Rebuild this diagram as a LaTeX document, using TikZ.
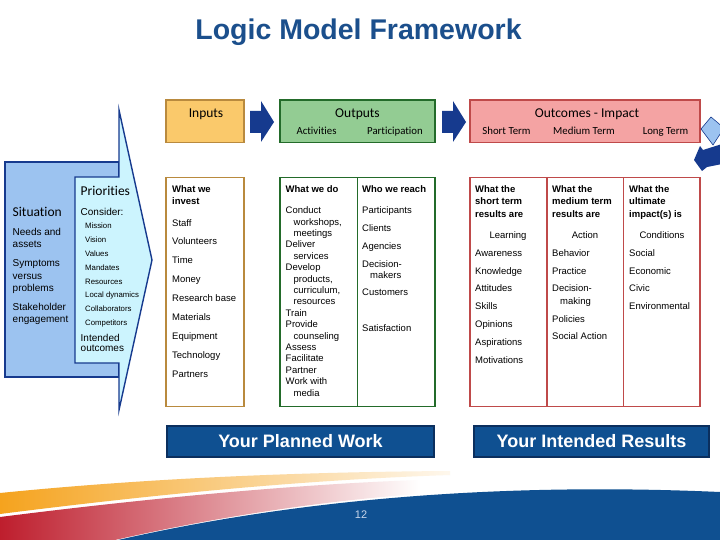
\documentclass[tikz,border=0pt]{standalone}
\usepackage{fontspec}
\setmainfont{Liberation Sans}
\newfontfamily\hdfont[Ligatures=NoCommon]{Carlito}
\usepackage{tikz}
\usetikzlibrary{calc}
\definecolor{lmtitle}{HTML}{1B4F8C}
\definecolor{lmin}{HTML}{FAC96B}
\definecolor{lminline}{HTML}{B98A3E}
\definecolor{lmout}{HTML}{93CC93}
\definecolor{lmoutline}{HTML}{236B2A}
\definecolor{lmimp}{HTML}{F4A3A3}
\definecolor{lmimpline}{HTML}{BF4A4A}
\definecolor{lmnavy}{HTML}{163A8E}
\definecolor{lmsit}{HTML}{9CC3F0}
\definecolor{lmprio}{HTML}{CCF4FE}
\definecolor{lmband}{HTML}{0F5091}
\definecolor{lmbandline}{HTML}{0B2F5E}
\definecolor{lmorange}{HTML}{F5A31E}
\definecolor{lmred}{HTML}{BE1E2D}
\definecolor{lmpage}{HTML}{C8D6EA}
\tikzset{
  body/.style={font=\fontsize{9.5}{11}\selectfont,anchor=base west,inner sep=0pt},
  bodyb/.style={body,font=\fontsize{9.5}{11}\selectfont\bfseries},
  sitx/.style={font=\fontsize{10}{12}\selectfont,anchor=base west,inner sep=0pt},
  prio/.style={font=\fontsize{7.8}{9}\selectfont,anchor=base west,inner sep=0pt},
  hd/.style={font=\hdfont\fontsize{13.5}{15}\selectfont,inner sep=0pt},
  subhd/.style={font=\hdfont\fontsize{10.8}{12}\selectfont,anchor=base,inner sep=0pt},
  banner/.style={fill=lmband,draw=lmbandline,line width=1.6pt,text=white,
    font=\bfseries\fontsize{18}{20}\selectfont,minimum height=31,inner sep=0pt}
}

\begin{document}
\begin{tikzpicture}[x=1pt,y=-1pt]
    \fill[white] (0,0) rectangle (720,540);
    \useasboundingbox (0,0) rectangle (720,540);
    \node[anchor=base,font=\bfseries\fontsize{28.5}{32}\selectfont,text=lmtitle,inner sep=0pt] (title) at (358.5,40) {Logic Model Framework};
    \filldraw[fill=lmsit,draw=lmnavy,line width=1.4pt] (5,162) rectangle (119,377);
    \filldraw[fill=lmprio,draw=lmnavy,line width=1.4pt] (75,177) -- (119,177) -- (119,110) -- (152,260) -- (119,410) -- (119,363) -- (75,363) -- cycle;
    \node[hd,anchor=base west] (sit) at (12.5,216.5) {Situation};
    \node[sitx] (sit-1) at (12.5,235.2) {Needs and};
    \node[sitx] (sit-2) at (12.5,247.8) {assets};
    \node[sitx] (sit-3) at (12.5,266.8) {Symptoms};
    \node[sitx] (sit-4) at (12.5,279.2) {versus};
    \node[sitx] (sit-5) at (12.5,291.8) {problems};
    \node[sitx] (sit-6) at (12.5,310.8) {Stakeholder};
    \node[sitx] (sit-7) at (12.5,322.8) {engagement};
    \node[hd,anchor=base west] (pri) at (80.5,196) {Priorities};
    \node[sitx] (pri-c) at (80.5,215.8) {Consider:};
    \foreach \t [count=\i] in {Mission,Vision,Values,Mandates,Resources,Local dynamics,Collaborators,Competitors}
      \node[prio] (pri-\i) at (85,{228.8+13.8*(\i-1)}) {\t};
    \node[sitx] (pri-o1) at (80.5,341.5) {Intended};
    \node[sitx] (pri-o2) at (80.5,351) {outcomes};
    \filldraw[fill=lmin,draw=lminline,line width=1.5pt] (166,100) rectangle (244,142.5);
    \filldraw[fill=lmout,draw=lmoutline,line width=1.5pt] (280,100) rectangle (435,142.5);
    \filldraw[fill=lmimp,draw=lmimpline,line width=1.5pt] (470,100) rectangle (700,142.5);
    \node[hd,anchor=base] (inhd) at (206,117.5) {Inputs};
    \node[hd,anchor=base] (outhd) at (357.5,117.5) {Outputs};
    \node[subhd] (outhd-a) at (316.5,135) {Activities};
    \node[subhd] (outhd-p) at (395,135) {Participation};
    \node[hd,anchor=base] (imphd) at (587,117.5) {Outcomes - Impact};
    \node[subhd] (imphd-s) at (506.5,135) {Short Term};
    \node[subhd] (imphd-m) at (584,135) {Medium Term};
    \node[subhd] (imphd-l) at (665.5,135) {Long Term};
    \foreach \ax in {250,442}
      \fill[lmnavy] (\ax,111) -- (\ax+11,111) -- (\ax+11,101) -- (\ax+24,122) -- (\ax+11,142) -- (\ax+11,133) -- (\ax,133) -- cycle;
    \filldraw[fill=lmsit,draw=lmnavy,line width=0.6pt] (701,129) -- (711,117) -- (724,128) -- (713,145) -- cycle;
    \fill[lmnavy] (694,160) -- (700,146) -- (703,150) -- (722,144) -- (722,164) -- (707,167) -- (702,171) -- cycle;
    \draw[draw=lminline,line width=1.8pt] (166,177.5) rectangle (244,406.5);
    \draw[draw=lmoutline,line width=1.8pt] (280,177.5) rectangle (435,406.5);
    \draw[draw=lmoutline,line width=1.8pt] (357.5,177.5) -- (357.5,406.5);
    \draw[draw=lmimpline,line width=1.8pt] (470,177.5) rectangle (700,406.5);
    \draw[draw=lmimpline,line width=1.8pt] (547,177.5) -- (547,406.5);
    \draw[draw=lmimpline,line width=1.8pt] (623.5,177.5) -- (623.5,406.5);
    \node[bodyb] (inv-h1) at (172,192.5) {What we};
    \node[bodyb] (inv-h2) at (172,205) {invest};
    \foreach \t [count=\i] in {Staff,Volunteers,Time,Money,Research base,Materials,Equipment,Technology,Partners}
      \node[body] (inv-\i) at (172,{226+18.9*(\i-1)}) {\t};
    \node[bodyb] (act-h) at (285.5,192.5) {What we do};
    \foreach \dx/\t [count=\i] in {0/Conduct,8/{workshops,},8/meetings,0/Deliver,8/services,0/Develop,8/{products,},8/{curriculum,},8/resources,0/Train,0/Provide,8/counseling,0/Assess,0/Facilitate,0/Partner,0/Work with,8/media}
      \node[body] (act-\i) at (285.5+\dx,{213.7+11.4*(\i-1)}) {\t};
    \node[bodyb] (par-h) at (362,192.5) {Who we reach};
    \node[body] (par-1) at (362,213.7) {Participants};
    \node[body] (par-2) at (362,231.3) {Clients};
    \node[body] (par-3) at (362,249) {Agencies};
    \node[body] (par-4) at (362,267) {Decision-};
    \node[body] (par-5) at (370,278) {makers};
    \node[body] (par-6) at (362,295.7) {Customers};
    \node[body] (par-7) at (362,331.7) {Satisfaction};
    \node[bodyb] (st-h1) at (475,192.5) {What the};
    \node[bodyb] (st-h2) at (475,205) {short term};
    \node[bodyb] (st-h3) at (475,217.5) {results are};
    \node[body,anchor=base] (st-k) at (508,238.7) {Learning};
    \foreach \t [count=\i] in {Awareness,Knowledge,Attitudes,Skills,Opinions,Aspirations,Motivations}
      \node[body] (st-\i) at (475,{256.3+17.8*(\i-1)}) {\t};
    \node[bodyb] (mt-h1) at (552,192.5) {What the};
    \node[bodyb] (mt-h2) at (552,205) {medium term};
    \node[bodyb] (mt-h3) at (552,217.5) {results are};
    \node[body,anchor=base] (mt-k) at (585,238.7) {Action};
    \node[body] (mt-1) at (552,256.3) {Behavior};
    \node[body] (mt-2) at (552,274.1) {Practice};
    \node[body] (mt-3) at (552,291.9) {Decision-};
    \node[body] (mt-4) at (560,304) {making};
    \node[body] (mt-5) at (552,322.3) {Policies};
    \node[body] (mt-6) at (552,339.7) {Social Action};
    \node[bodyb] (lt-h1) at (629,192.5) {What the};
    \node[bodyb] (lt-h2) at (629,205) {ultimate};
    \node[bodyb] (lt-h3) at (629,217.5) {impact(s) is};
    \node[body,anchor=base] (lt-k) at (662,238.7) {Conditions};
    \foreach \t [count=\i] in {Social,Economic,Civic,Environmental}
      \node[body] (lt-\i) at (629,{256.3+17.8*(\i-1)}) {\t};
    \node[banner,minimum width=267] (planned) at (300.5,441.5) {Your Planned Work};
    \node[banner,minimum width=235] (intended) at (591.5,441.5) {Your Intended Results};
    \shade[left color=lmorange,middle color=lmorange!85,right color=lmorange!8] (0,493) .. controls (150,478) and (300,472) .. (450,471) -- (450,475) .. controls (300,480) and (150,495) .. (0,514) -- cycle;
    \shade[left color=lmred,middle color=lmred!75,right color=white] (0,517) .. controls (150,498) and (300,484) .. (420,480) -- (420,494) .. controls (330,500) and (220,516) .. (115,540) -- (0,540) -- cycle;
    \fill[lmband] (118,540) .. controls (250,510) and (450,480) .. (720,492) -- (720,540) -- cycle;
    \node[font=\fontsize{11}{13}\selectfont,text=lmpage,inner sep=0pt] (pagenum) at (361,515) {12};
  \end{tikzpicture}
\end{document}
